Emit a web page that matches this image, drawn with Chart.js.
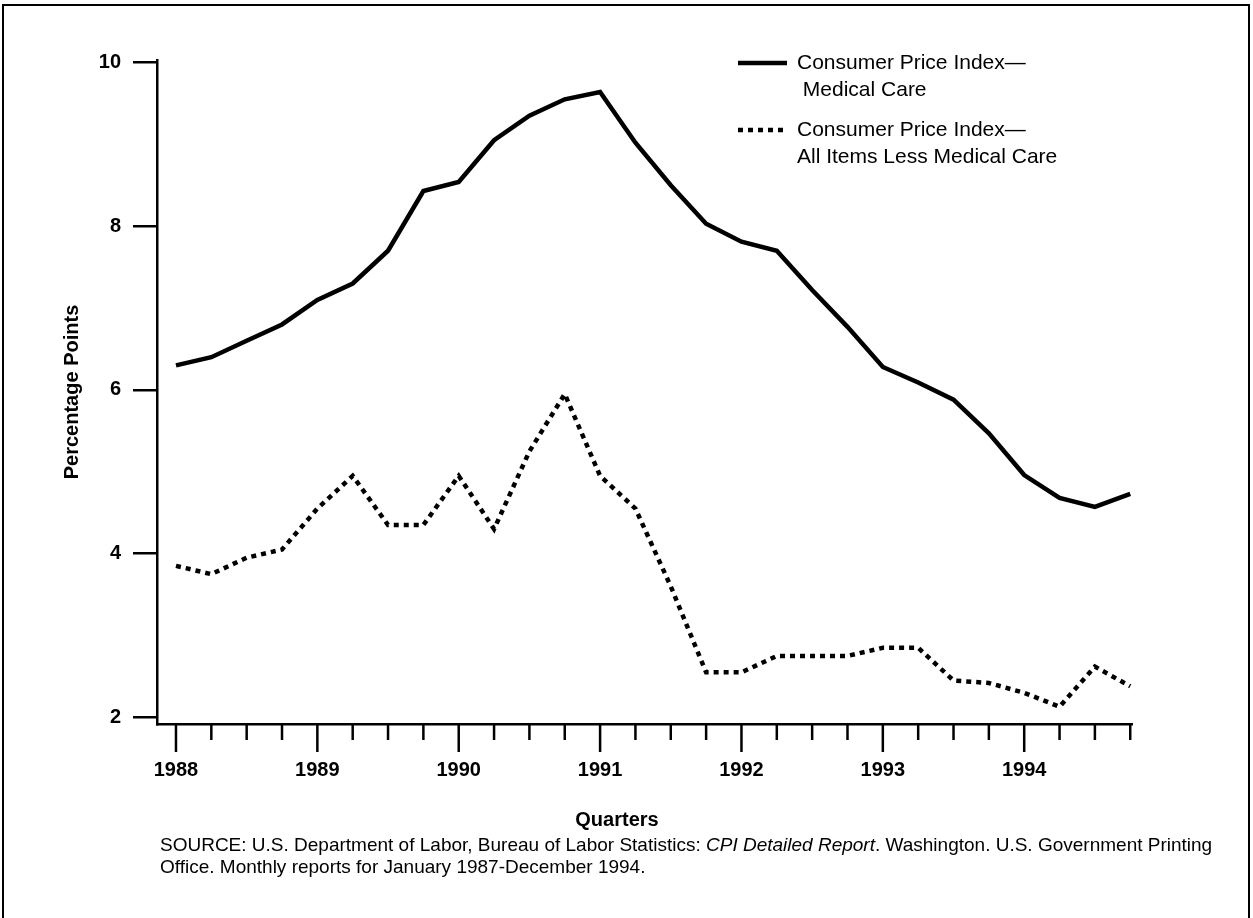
<!DOCTYPE html>
<html>
<head>
<meta charset="utf-8">
<script src="https://cdn.jsdelivr.net/npm/chart.js@4.4.1/dist/chart.umd.min.js"></script>
<style>
  html, body { margin: 0; padding: 0; background: #fff; }
  #wrap { position: relative; width: 1253px; height: 918px; overflow: hidden; }
  #frame { position: absolute; left: 2px; top: 4px; width: 1248px; height: 940px; border: 2px solid #000; box-sizing: border-box; }
  #chart { position: absolute; left: 0; top: 0; }
  .txt { position: absolute; font-family: "Liberation Sans", Arial, sans-serif; color: #000; }
  #xtitle { left: 517px; top: 807px; width: 200px; text-align: center; font-weight: bold; font-size: 20px; line-height: 24px; }
  #source { left: 160px; top: 834px; font-size: 19px; line-height: 22px; white-space: nowrap; }
</style>
</head>
<body>
<div id="wrap">
  <div id="frame"></div>
  <canvas id="chart" width="1253" height="918"></canvas>
  <div class="txt" id="xtitle">Quarters</div>
  <div class="txt" id="source">SOURCE: U.S. Department of Labor, Bureau of Labor Statistics: <i>CPI Detailed Report</i>. Washington. U.S. Government Printing<br>Office. Monthly reports for January 1987-December 1994.</div>
</div>
<script>
(function () {
  'use strict'

// quarters 1988 Q1 .. 1994 Q4
var quarters = ['1988 Q1','1988 Q2','1988 Q3','1988 Q4',
                '1989 Q1','1989 Q2','1989 Q3','1989 Q4',
                '1990 Q1','1990 Q2','1990 Q3','1990 Q4',
                '1991 Q1','1991 Q2','1991 Q3','1991 Q4',
                '1992 Q1','1992 Q2','1992 Q3','1992 Q4',
                '1993 Q1','1993 Q2','1993 Q3','1993 Q4',
                '1994 Q1','1994 Q2','1994 Q3','1994 Q4'];
var yearLabels = ['1988','1989','1990','1991','1992','1993','1994'];

var medicalCare = [6.3, 6.4, 6.6, 6.8, 7.1, 7.3, 7.7, 8.43,
                   8.54, 9.05, 9.35, 9.55, 9.64, 9.02, 8.5, 8.03,
                   7.81, 7.7, 7.22, 6.77, 6.28, 6.09, 5.88, 5.47,
                   4.96, 4.68, 4.57, 4.73];
var lessMedical = [3.85, 3.75, 3.95, 4.05, 4.55, 4.95, 4.35, 4.35,
                   4.95, 4.3, 5.25, 5.95, 4.95, 4.55, 3.6, 2.55,
                   2.55, 2.75, 2.75, 2.75, 2.85, 2.85, 2.45, 2.42,
                   2.3, 2.13, 2.62, 2.38];

var seriesNames = [['Consumer Price Index\u2014', ' Medical Care'],
                   ['Consumer Price Index\u2014', 'All Items Less Medical Care']];
var yTicks = [2, 4, 6, 8, 10];

var FONT = '"Liberation Sans", Arial, sans-serif';

function points(arr) {
  return arr.map(function (v, i) { return { x: i, y: v }; });
}

// quarter tick marks below the axis, longer at each year
var quarterTicks = {
  id: 'quarterTicks',
  afterDraw: function (chart) {
    var sx = chart.scales.x, ctx = chart.ctx, y0 = chart.chartArea.bottom;
    ctx.save();
    ctx.strokeStyle = '#000';
    ctx.lineWidth = 2.5;
    quarters.forEach(function (q, i) {
      var px = sx.getPixelForValue(i);
      var len = (i % 4 === 0) ? 28 : 16;
      ctx.beginPath();
      ctx.moveTo(px, y0);
      ctx.lineTo(px, y0 + len);
      ctx.stroke();
    });
    ctx.restore();
  }
};

// two-line legend in the top right
var legendBox = {
  id: 'legendBox',
  afterDraw: function (chart) {
    var ctx = chart.ctx;
    var rowY = [63, 130];
    ctx.save();
    ctx.font = '21px ' + FONT;
    ctx.fillStyle = '#000';
    ctx.textBaseline = 'middle';
    chart.data.datasets.forEach(function (ds, i) {
      var y = rowY[i];
      ctx.strokeStyle = ds.borderColor;
      ctx.lineWidth = ds.borderWidth;
      ctx.setLineDash(ds.borderDash || []);
      ctx.beginPath();
      ctx.moveTo(738, y);
      ctx.lineTo(787, y);
      ctx.stroke();
      seriesNames[i].forEach(function (t, j) {
        ctx.fillText(t, 797, y + j * 27);
      });
    });
    ctx.restore();
  }
};

var chart = new Chart(document.getElementById('chart'), {
  type: 'line',
  data: {
    datasets: [{
      label: seriesNames[0].join(''),
      data: points(medicalCare),
      borderColor: '#000',
      borderWidth: 4.5,
      pointRadius: 0,
      tension: 0,
      fill: false
    }, {
      label: seriesNames[1].join(' '),
      data: points(lessMedical),
      borderColor: '#000',
      borderWidth: 4.5,
      borderDash: [5, 5],
      pointRadius: 0,
      tension: 0,
      fill: false
    }]
  },
  options: {
    responsive: false,
    animation: false,
    devicePixelRatio: 1,
    events: [],
    layout: { padding: { left: 0, top: 60, right: 121, bottom: 0 } },
    plugins: { legend: { display: false }, tooltip: { enabled: false } },
    scales: {
      x: {
        type: 'linear',
        min: -0.537,
        max: 27.05,
        afterFit: function (s) { s.height = 194; },
        afterBuildTicks: function (s) {
          s.ticks = quarters.map(function (q, i) { return { value: i }; });
        },
        grid: { display: false, drawTicks: false },
        border: { display: true, color: '#000', width: 2.5 },
        ticks: {
          autoSkip: false,
          maxRotation: 0,
          padding: 34,
          color: '#000',
          font: { family: FONT, size: 20, weight: 'bold' },
          callback: function (v) { return (v % 4 === 0) ? yearLabels[v / 4] : ''; }
        }
      },
      y: {
        min: 1.919,
        max: 10.03,
        afterFit: function (s) { s.width = 157; },
        afterBuildTicks: function (s) {
          s.ticks = yTicks.map(function (v) { return { value: v }; });
        },
        grid: { drawOnChartArea: false, drawTicks: true, tickLength: 24, color: '#000', lineWidth: 2.5 },
        border: { display: true, color: '#000', width: 2.5 },
        ticks: {
          padding: 12,
          color: '#000',
          font: { family: FONT, size: 20, weight: 'bold' }
        },
        title: {
          display: true,
          text: 'Percentage Points',
          color: '#000',
          font: { family: FONT, size: 20, weight: 'bold' },
          padding: { top: 60, bottom: 0 }
        }
      }
    }
  },
  plugins: [quarterTicks, legendBox]
});

})()
</script>
</body>
</html>
